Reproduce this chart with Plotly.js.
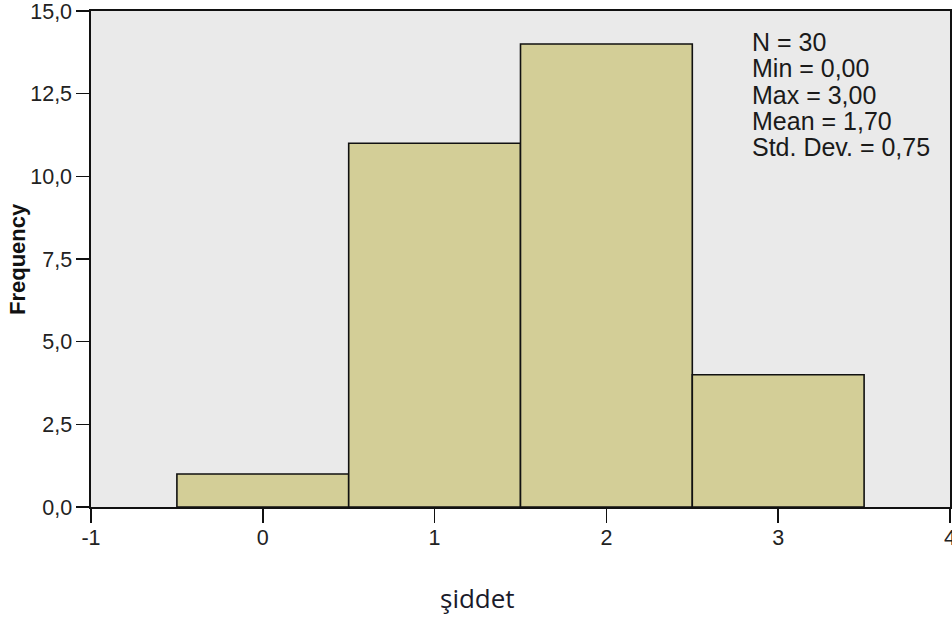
<!DOCTYPE html>
<html>
<head>
<meta charset="utf-8">
<script src="https://cdn.plot.ly/plotly-3.0.1.min.js"></script>
<style>html,body{margin:0;padding:0;background:#fff;}</style>
</head>
<body>
<div id="chart" style="width:952px;height:618px;"></div>
<script>
// Data
const binCenters = [0, 1, 2, 3];
const frequencies = [1, 11, 14, 4];
const statLines = ["N = 30", "Min = 0,00", "Max = 3,00", "Mean = 1,70", "Std. Dev. = 0,75"];
const yTickValues = [0, 2.5, 5, 7.5, 10, 12.5, 15];
const yTickLabels = ["0,0", "2,5", "5,0", "7,5", "10,0", "12,5", "15,0"];
const xTickValues = [-1, 0, 1, 2, 3, 4];
const xTickLabels = ["-1", "0", "1", "2", "3", "4"];
const xTitle = "şiddet";
const yTitle = "Frequency";

const W = 952, H = 618;
const M = {l: 91, r: 2, t: 11, b: 111};
const PW = W - M.l - M.r, PH = H - M.t - M.b;
const px2x = (p) => (p - M.l) / PW;
const py2y = (p) => (H - M.b - p) / PH;

const font = "Liberation Sans, Arial, sans-serif";

const trace = {
  type: 'bar',
  x: binCenters,
  y: frequencies,
  width: 1,
  marker: {color: '#D3CE97', line: {color: '#111', width: 1.6}},
  hoverinfo: 'x+y'
};

const annotations = [];
const lineCenters = [41.7, 68.3, 95, 120.5, 146.7];
statLines.forEach((t, i) => {
  annotations.push({
    text: t, showarrow: false,
    xref: 'paper', yref: 'paper',
    x: px2x(750), y: py2y(lineCenters[i]),
    xanchor: 'left', yanchor: 'middle',
    font: {family: font, size: 25, color: '#1a1a1a'}
  });
});
annotations.push({
  text: '<b>' + yTitle + '</b>', showarrow: false, textangle: -90,
  xref: 'paper', yref: 'paper', x: px2x(17), y: 0.5,
  xanchor: 'center', yanchor: 'middle',
  font: {family: font, size: 22, color: '#111'}
});
annotations.push({
  text: xTitle, showarrow: false,
  xref: 'paper', yref: 'paper', x: px2x(477), y: py2y(598),
  xanchor: 'center', yanchor: 'middle',
  font: {family: 'Open Sans, Noto Sans, sans-serif', size: 26, color: '#1a1a2a'}
});

const layout = {
  width: W, height: H,
  margin: M,
  paper_bgcolor: '#ffffff',
  plot_bgcolor: '#EAEAEA',
  showlegend: false,
  bargap: 0,
  xaxis: {
    range: [-1, 4], tickvals: xTickValues, ticktext: xTickLabels,
    ticklabeloverflow: 'allow',
    showgrid: false, zeroline: false,
    showline: true, linecolor: '#111', linewidth: 1.6, mirror: true,
    ticks: 'outside', ticklen: 14, tickwidth: 1.6, tickcolor: '#111',
    ticklabelstandoff: -3,
    tickfont: {family: font, size: 21.5, color: '#222'}
  },
  yaxis: {
    range: [0, 15], tickvals: yTickValues, ticktext: yTickLabels,
    ticklabeloverflow: 'allow',
    showgrid: false, zeroline: false,
    showline: true, linecolor: '#111', linewidth: 1.6, mirror: true,
    ticks: 'outside', ticklen: 13, tickwidth: 1.6, tickcolor: '#111',
    tickfont: {family: font, size: 21.5, color: '#222'}
  },
  annotations: annotations
};

Plotly.newPlot('chart', [trace], layout, {displayModeBar: false, staticPlot: true});
</script>
</body>
</html>
